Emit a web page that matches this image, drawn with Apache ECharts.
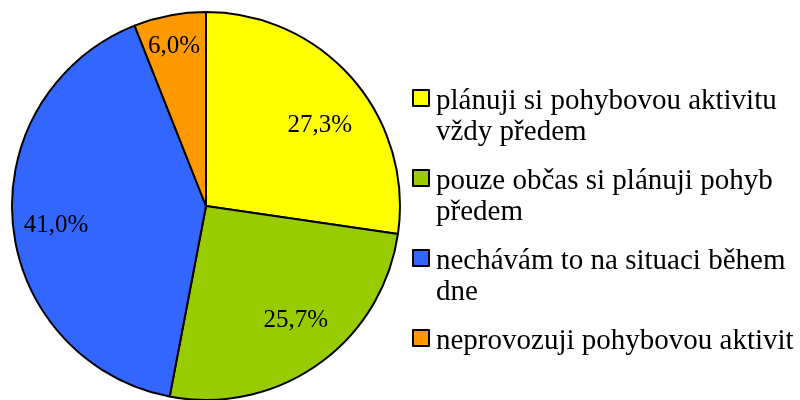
<!DOCTYPE html>
<html>
<head>
<meta charset="utf-8">
<script src="https://cdn.jsdelivr.net/npm/echarts@6/dist/echarts.min.js"></script>
<style>
  html, body { margin: 0; padding: 0; background: #fff; }
  #chart { width: 800px; height: 400px; }
</style>
</head>
<body>
<div id="chart"></div>
<script>
// Answer categories
const categories = [
  'plánuji si pohybovou aktivitu vždy předem',
  'pouze občas si plánuji pohyb předem',
  'nechávám to na situaci během dne',
  'neprovozuji pohybovou aktivit'
];
// Legend text, two lines per entry
const legendLines = [
  ['plánuji si pohybovou aktivitu', 'vždy předem'],
  ['pouze občas si plánuji pohyb', 'předem'],
  ['nechávám to na situaci během', 'dne'],
  ['neprovozuji pohybovou aktivit', '']
];
// Share of respondents, percent
const shares = [27.3, 25.7, 41.0, 6.0];
const sliceColors = ['#FFFF00', '#99CC00', '#3366FF', '#FF9900'];

// Pie geometry
const CX = 206, CY = 206, R = 194;
// Per-slice label placement: radial fraction and small angular nudge (deg)
const labelRadius = [0.72, 0.75, 0.78, 0.84];
const labelNudge = [5.4, -2.6, -2.1, -0.5];

const total = shares.reduce((a, b) => a + b, 0);
const midAngles = [];
let acc = 0;
shares.forEach(v => { midAngles.push((acc + v / 2) / total * 360); acc += v; });

// Legend square sits beside the first text line of each entry
const legendIcon = 'path://M0,0M18,62M0,4H16V20H0Z';

const serif = '"Liberation Serif", "Times New Roman", serif';

const chart = echarts.init(document.getElementById('chart'), null, { renderer: 'canvas' });
chart.setOption({
  backgroundColor: '#ffffff',
  animation: false,
  legend: {
    orient: 'vertical',
    left: 412,
    top: 85,
    padding: 0,
    itemWidth: 18,
    itemHeight: 62,
    itemGap: 16,
    icon: legendIcon,
    data: categories,
    formatter: name => legendLines[categories.indexOf(name)].join('\n'),
    itemStyle: { borderColor: '#000', borderWidth: 2 },
    textStyle: {
      fontFamily: serif,
      fontSize: 29,
      lineHeight: 31,
      color: '#000'
    },
    selectedMode: false
  },
  series: [{
    type: 'pie',
    center: [CX, CY],
    radius: R,
    startAngle: 90,
    clockwise: true,
    avoidLabelOverlap: false,
    itemStyle: { borderColor: '#000', borderWidth: 2 },
    label: {
      show: true,
      position: 'inside',
      formatter: p => p.value.toFixed(1).replace('.', ',') + '%',
      fontFamily: serif,
      fontSize: 25,
      color: '#000'
    },
    labelLine: { show: false },
    labelLayout: params => {
      const i = params.dataIndex;
      const a = (midAngles[i] + labelNudge[i]) * Math.PI / 180;
      const d = R * labelRadius[i];
      return {
        x: CX + d * Math.sin(a),
        y: CY - d * Math.cos(a),
        align: 'center',
        verticalAlign: 'middle'
      };
    },
    emphasis: { disabled: true },
    data: categories.map((name, i) => ({
      name,
      value: shares[i],
      itemStyle: { color: sliceColors[i] }
    }))
  }]
});
</script>
</body>
</html>
